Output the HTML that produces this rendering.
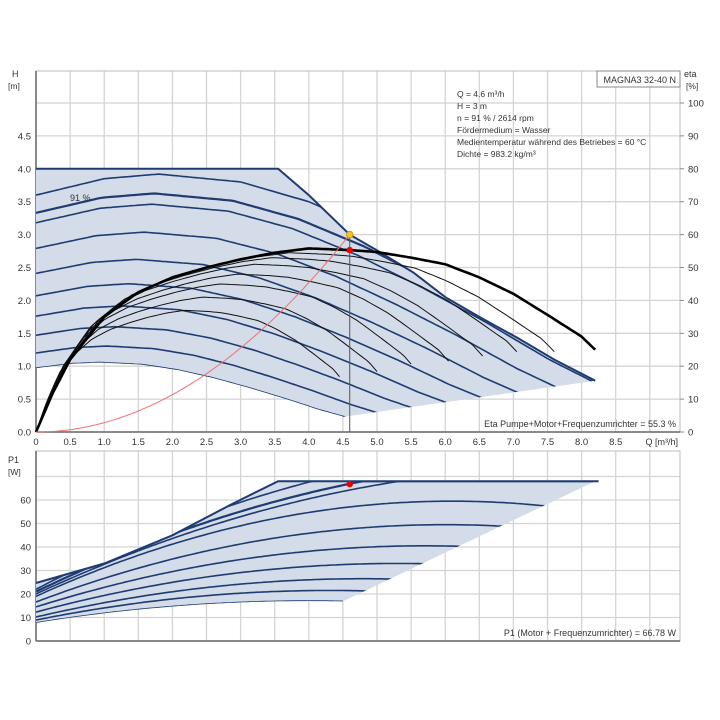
<!DOCTYPE html>
<html><head><meta charset="utf-8">
<style>
html,body{margin:0;padding:0;background:#fff;}
svg{display:block;font-family:"Liberation Sans",sans-serif;}
</style></head>
<body>
<svg id="chart" width="720" height="720" viewBox="0 0 720 720" xmlns="http://www.w3.org/2000/svg">
<defs>
<clipPath id="clipH"><path id="clipHPath" d=""/></clipPath>
<clipPath id="clipP"><path id="clipPPath" d=""/></clipPath>
</defs>
<g id="gridTop"></g>
<g id="gridBot"></g>
<g id="marks"></g>
<g id="labels"></g>
</svg>
<script>
// ---------- data ----------
const qTicks = ["0","0.5","1.0","1.5","2.0","2.5","3.0","3.5","4.0","4.5","5.0","5.5","6.0","6.5","7.0","7.5","8.0","8.5"];
const hTicks = ["0.0","0.5","1.0","1.5","2.0","2.5","3.0","3.5","4.0","4.5"];
const etaTicks = ["0","10","20","30","40","50","60","70","80","90","100"];
const pTicks = ["0","10","20","30","40","50","60"];
// max-speed base head curve
const baseQ = [0,1,1.8,3,4,5,6,7,8,8.7,9.5];
const baseH = [3.6,3.85,3.92,3.8,3.5,3.05,2.5,1.9,1.25,0.86,0.4];
// start head of each speed curve
const speedH0 = [0.97,1.2,1.47,1.76,2.07,2.41,2.79,3.18,3.33,3.6];
// max boundary of operating area
const limQ = [3.55,4.0,4.6,5.0,5.54,6.0,6.5,7.06,7.6,8.2];
const limH = [4.0,3.6,3.0,2.76,2.42,2.05,1.75,1.43,1.1,0.78];
const maxH = 4.0;
const minLineStart = [4.5,0.23];
// efficiency
const etaQ = [0,0.25,0.5,1,1.5,2,2.5,3,3.5,4,4.6,5,5.5,6,6.5,7,7.5,8,8.2];
const etaV = [0,12,22,35,42.5,47,50,52.5,54.5,55.8,55.3,54.7,53,51,47,42,35.6,29,25];
const etaEnds = [4.46,5.0,5.52,6.05,6.56,7.08,7.6];
const etaPeaks = [37,41,45,48,51,53,54.5];
const etaMaxEnd = 8.2;
// duty point
const dutyQ = 4.6, dutyH = 3.0, dutyEta = 55.3, dutyP = 66.78;
// power curves
const pStart = [7.7,8.9,10.2,12.3,14.5,16.6,19,20,21,22];
const pPeakQ = [4.0,4.3,4.8,5.3,5.7,6.0,6.1,8,8,8];
const pPeak = [17,21.5,26.5,33,40.5,49.5,59.5,74,77,82.8];
const pEnds = [4.5,5.0,5.52,6.05,6.56,7.08,7.6,9,9,9];
const pLimQ = [0,1,2,2.85,3.55];
const pLimV = [24.7,33,45,57.9,68];
const pMax = 68, pMaxEnd = 8.2;

// ---------- axes ----------
const X0=36, XR=680, PX=68.2;
const x = q => X0 + q*PX;
const yH = h => 432 - h*65.8;
const yE = e => 432 - e*3.29;
const yP = p => 641 - p*2.35;
const NS="http://www.w3.org/2000/svg";
function mk(tag, attrs, parent){const e=document.createElementNS(NS,tag);for(const k in attrs)e.setAttribute(k,attrs[k]);(parent||document.getElementById('marks')).appendChild(e);return e;}
function interp(xs, ys, v){ if(v<=xs[0])return ys[0]; for(let i=1;i<xs.length;i++){ if(v<=xs[i]){const t=(v-xs[i-1])/(xs[i]-xs[i-1]);return ys[i-1]+t*(ys[i]-ys[i-1]);} } const n=xs.length; const t=(v-xs[n-2])/(xs[n-1]-xs[n-2]); return ys[n-2]+t*(ys[n-1]-ys[n-2]); }
function pathFrom(pts){return pts.map((p,i)=>(i?'L':'M')+p[0].toFixed(1)+','+p[1].toFixed(1)).join('');}

const gT=document.getElementById('gridTop'), gB=document.getElementById('gridBot'), L=document.getElementById('labels');
// grid top
for(let i=0;i<=18;i++){const l=mk('line',{x1:x(i*0.5),x2:x(i*0.5),y1:71,y2:432,stroke:'#d4d4d4','stroke-width':1.3},gT);}
for(let i=0;i<=10;i++){const l=mk('line',{x1:X0,x2:XR,y1:yH(i*0.5),y2:yH(i*0.5),stroke:'#d4d4d4','stroke-width':1.3},gT);}
mk('rect',{x:X0,y:71,width:XR-X0,height:361,fill:'none',stroke:'#bbb','stroke-width':1},gT);
mk('line',{x1:X0,x2:X0,y1:71,y2:432,stroke:'#666','stroke-width':1.5},gT);
mk('line',{x1:X0,x2:XR,y1:432,y2:432,stroke:'#666','stroke-width':1.5},gT);
// grid bottom
for(let i=0;i<=18;i++){const l=mk('line',{x1:x(i*0.5),x2:x(i*0.5),y1:451,y2:641,stroke:'#d4d4d4','stroke-width':1.3},gB);}
for(let i=0;i<=7;i++){const l=mk('line',{x1:X0,x2:XR,y1:yP(i*10),y2:yP(i*10),stroke:'#d4d4d4','stroke-width':1.3},gB);}
mk('rect',{x:X0,y:451,width:XR-X0,height:190,fill:'none',stroke:'#bbb','stroke-width':1},gB);
mk('line',{x1:X0,x2:X0,y1:451,y2:641,stroke:'#666','stroke-width':1.5},gB);
mk('line',{x1:X0,x2:XR,y1:641,y2:641,stroke:'#666','stroke-width':1.5},gB);

// ---------- head chart ----------
function speedCurve(h0,q){const s=Math.sqrt(h0/baseH[0]);return s*s*interp(baseQ,baseH,q/s);}
const minH0=speedH0[0];
let poly=[[x(0),yH(maxH)],[x(limQ[0]),yH(maxH)]];
limQ.forEach((q,i)=>poly.push([x(q),yH(limH[i])]));
poly.push([x(minLineStart[0]),yH(minLineStart[1])]);
for(let q=minLineStart[0];q>=-0.001;q-=0.05)poly.push([x(q),yH(speedCurve(minH0,q))]);
const polyD=pathFrom(poly)+'Z';
document.getElementById('clipHPath').setAttribute('d',polyD);
const area=mk('path',{d:polyD,fill:'#d3dce8',stroke:'none'});


speedH0.forEach((h0,i)=>{const pts=[];for(let q=0;q<=9.5;q+=0.05)pts.push([x(q),yH(speedCurve(h0,q))]);
 const p=mk('path',{d:pathFrom(pts),fill:'none',stroke:'#1f3c72','stroke-width':(h0===3.33?2.2:1.6),'clip-path':'url(#clipH)'});
 
 });
const limPts=[[x(0),yH(maxH)],[x(limQ[0]),yH(maxH)]];limQ.forEach((q,i)=>limPts.push([x(q),yH(limH[i])]));
const lim=mk('path',{d:pathFrom(limPts),fill:'none',stroke:'#1f3c72','stroke-width':2});


// eta curves
etaEnds.forEach((e,i)=>{const s=e/etaMaxEnd,f=etaPeaks[i]/Math.max(...etaV);const pts=[];for(let q=0;q<=e+0.001;q+=0.05)pts.push([x(q),yE(f*interp(etaQ,etaV,q/s))]);
 const p=mk('path',{d:pathFrom(pts),fill:'none',stroke:'#111','stroke-width':1});
 
 });
{const pts=[];for(let q=0;q<=etaMaxEnd+0.001;q+=0.05)pts.push([x(q),yE(interp(etaQ,etaV,q))]);
 const p=mk('path',{d:pathFrom(pts),fill:'none',stroke:'#000','stroke-width':2.6});
 
 }
// system curve
{const pts=[];for(let q=0;q<=dutyQ+0.001;q+=0.05)pts.push([x(q),yH(dutyH*(q/dutyQ)*(q/dutyQ))]);
 const p=mk('path',{d:pathFrom(pts),fill:'none',stroke:'#f07070','stroke-width':1});
 
 }
{const v=mk('line',{x1:x(dutyQ),x2:x(dutyQ),y1:yH(dutyH),y2:432,stroke:'#555','stroke-width':1});
 
 }
{const c=mk('circle',{cx:x(dutyQ),cy:yH(dutyH),r:3.3,fill:'#f5c518',stroke:'#d09000','stroke-width':0.8});
 
 }
{const c=mk('circle',{cx:x(dutyQ),cy:yE(dutyEta),r:3.2,fill:'#e00'});
 
 }

// ---------- power chart ----------
function pCurve(i,q){const t=1-q/pPeakQ[i];return pPeak[i]-(pPeak[i]-pStart[i])*t*t;}
let pp=[];pLimQ.forEach((q,i)=>pp.push([x(q),yP(pLimV[i])]));
pp.push([x(pMaxEnd),yP(pMax)]);pp.push([x(pEnds[0]),yP(pCurve(0,pEnds[0]))]);
for(let q=pEnds[0];q>=-0.001;q-=0.05)pp.push([x(q),yP(pCurve(0,q))]);
const ppD=pathFrom(pp)+'Z';
document.getElementById('clipPPath').setAttribute('d',ppD);
const parea=mk('path',{d:ppD,fill:'#d3dce8',stroke:'none'});


pStart.forEach((s,i)=>{const pts=[];for(let q=0;q<=pEnds[i]+0.001;q+=0.05)pts.push([x(q),yP(Math.min(pMax,pCurve(i,q)))]);
 const p=mk('path',{d:pathFrom(pts),fill:'none',stroke:'#1f3c72','stroke-width':(i===8?2.2:1.6),'clip-path':'url(#clipP)'});
 
 });
{const pts=[];pLimQ.forEach((q,i)=>pts.push([x(q),yP(pLimV[i])]));pts.push([x(pMaxEnd+0.05),yP(pMax)]);
 const p=mk('path',{d:pathFrom(pts),fill:'none',stroke:'#1f3c72','stroke-width':2});
 
 }
{const c=mk('circle',{cx:x(dutyQ),cy:yP(dutyP),r:3.2,fill:'#e00'});
 
 }

// ---------- labels ----------
function txt(s,ax,ay,opt){const t=mk('text',Object.assign({x:ax,y:ay,'font-size':9.5,fill:'#333'},opt||{}),L);t.textContent=s;return t;}
qTicks.forEach((s,i)=>{const t=txt(s,x(i*0.5),445,{'text-anchor':'middle'});});
hTicks.forEach((s,i)=>{const t=txt(s,31,yH(i*0.5)+3.5,{'text-anchor':'end'});});
etaTicks.forEach((s,i)=>{mk('line',{x1:XR,x2:XR+4,y1:yE(i*10),y2:yE(i*10),stroke:'#888'},L);const t=txt(s,688,yE(i*10)+3.5);});
pTicks.forEach((s,i)=>{const t=txt(s,31,yP(i*10)+3.5,{'text-anchor':'end'});});
</script>
<g></g>
<script>
(function(){
const L=document.getElementById('labels');
const NS="http://www.w3.org/2000/svg";
function t(s,x,y,opt,name){const e=document.createElementNS(NS,'text');e.setAttribute('x',x);e.setAttribute('y',y);e.setAttribute('font-size',(opt&&opt.fs)||9);e.setAttribute('fill','#333');if(opt&&opt.anchor)e.setAttribute('text-anchor',opt.anchor);e.textContent=s;


L.appendChild(e);}
t('H',12,77,{},'h-axis-title');t('[m]',8,89,{fs:8.5},'h-axis-unit');
t('eta',684,77,{},'eta-axis-title');t('[%]',686,89,{fs:8.5},'eta-axis-unit');
t('P1',8,463,{},'p-axis-title');t('[W]',8,475,{fs:8.5},'p-axis-unit');
t('Q [m³/h]',678,445,{anchor:'end'},'x-axis-title');
t('91 %',70,201,{fs:9},'speed-label');
t('Eta Pumpe+Motor+Frequenzumrichter = 55.3 %',676,427,{anchor:'end',fs:9},'eta-result');
t('P1 (Motor + Frequenzumrichter) = 66.78 W',676,636,{anchor:'end',fs:9},'p1-result');
const r=document.createElementNS(NS,'rect');r.setAttribute('x',597);r.setAttribute('y',71);r.setAttribute('width',83);r.setAttribute('height',16);r.setAttribute('fill','#fff');r.setAttribute('stroke','#888');


L.appendChild(r);
t('MAGNA3 32-40 N',676,83,{anchor:'end',fs:9},'pump-name');
const info=['Q = 4.6 m³/h','H = 3 m','n = 91 % / 2614 rpm','Fördermedium = Wasser','Medientemperatur während des Betriebes = 60 °C','Dichte = 983.2 kg/m³'];
info.forEach((s,i)=>t(s,457,97+i*12,{fs:8.5},'info-line'));
})();
</script>
</body></html>
